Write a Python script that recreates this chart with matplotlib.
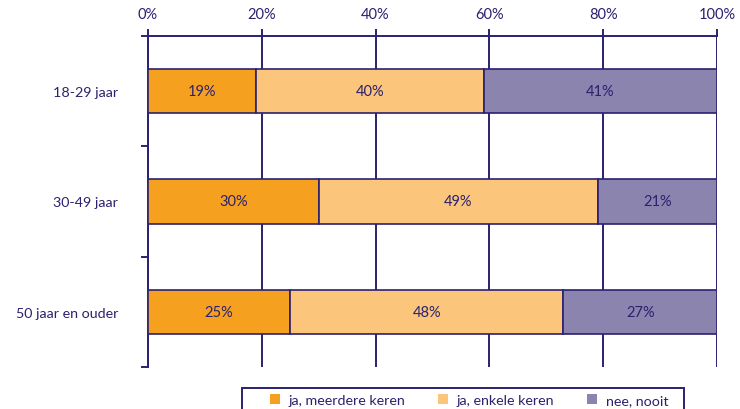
import numpy as np
import matplotlib.pyplot as plt
from matplotlib.patches import Rectangle
from matplotlib.ticker import FixedLocator

plt.rcParams["font.family"] = ["Lato", "DejaVu Sans"]

NAVY = "#2b2170"

groups = ["18-29 jaar", "30-49 jaar", "50 jaar en ouder"]
series = ["ja, meerdere keren", "ja, enkele keren", "nee, nooit"]
meerdere = [19, 30, 25]
enkele = [40, 49, 48]
nooit = [41, 21, 27]
colors = ["#f5a01f", "#fbc57c", "#8a84ae"]

fig = plt.figure(figsize=(7.4, 4.1), dpi=100)
ax = fig.add_axes([0.2, 0.1024, 0.769, 0.8074])

y = np.arange(len(groups))
left = np.zeros(len(groups))
for vals, col, name in zip([meerdere, enkele, nooit], colors, series):
    vals = np.array(vals, dtype=float)
    bars = ax.barh(y, vals, left=left, height=0.4, color=col,
                   edgecolor=NAVY, linewidth=1.2, label=name, zorder=3)
    for b, v in zip(bars, vals):
        ax.text(b.get_x() + b.get_width() / 2, b.get_y() + b.get_height() / 2,
                f"{v:.0f}%", ha="center", va="center", color=NAVY,
                fontsize=10.5, zorder=4)
    left += vals

ax.set_xlim(0, 100)
ax.set_ylim(2.5, -0.5)

# percentage scale on top, gridlines behind the bars
ax.xaxis.tick_top()
ax.set_xticks(np.arange(0, 101, 20))
ax.set_xticklabels([f"{t}%" for t in range(0, 101, 20)])
ax.xaxis.grid(True, color=NAVY, linewidth=1.4, zorder=0)
ax.tick_params(axis="x", colors=NAVY, labelcolor=NAVY, labelsize=10.5,
               length=5, width=1.4, pad=6)

# category labels centred, ticks on category boundaries
ax.set_yticks(y)
ax.set_yticklabels(groups)
ax.tick_params(axis="y", which="major", length=0, pad=21.5,
               labelcolor=NAVY, labelsize=10.3)
ax.yaxis.set_minor_locator(FixedLocator([-0.5, 0.5, 1.5, 2.5]))
ax.tick_params(axis="y", which="minor", length=5, width=1.4, color=NAVY)

for side in ["right", "bottom"]:
    ax.spines[side].set_visible(False)
for side in ["left", "top"]:
    ax.spines[side].set_color(NAVY)
    ax.spines[side].set_linewidth(1.4)

# legend box runs off the bottom edge of the figure
leg_top = 1 - 389 / 410
fig.patches.append(Rectangle((242 / 740, -0.1), 442 / 740, leg_top + 0.1,
                             transform=fig.transFigure, fill=False,
                             edgecolor=NAVY, linewidth=1.4))
leg = fig.legend(loc="center", bbox_to_anchor=(469 / 740, 1 - 401 / 410),
                 ncol=3, frameon=False, fontsize=10.3,
                 handlelength=0.7, handleheight=0.7, handletextpad=0.6,
                 columnspacing=2.3, borderpad=0, borderaxespad=0,
                 labelcolor=NAVY)
for h in leg.legend_handles:
    h.set_edgecolor("none")

fig.savefig("out.png", dpi=100)
